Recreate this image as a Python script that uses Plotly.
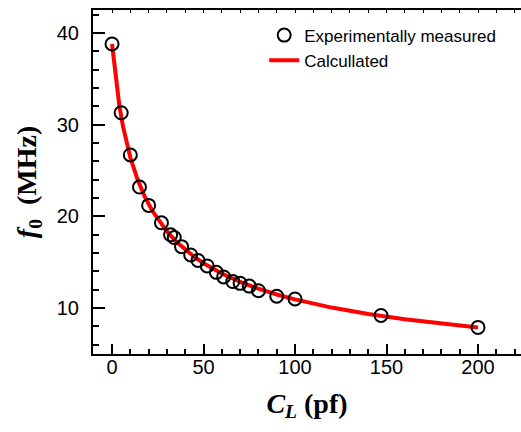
import plotly.graph_objects as go

# Experimentally measured points
cl_meas = [0, 5, 10, 15, 20, 27, 32, 34, 38, 43, 47, 52, 57, 61, 66, 70, 75, 80, 90, 100, 147, 200]
f0_meas = [38.8, 31.3, 26.7, 23.2, 21.2, 19.3, 18.0, 17.7, 16.7, 15.8, 15.2, 14.6, 13.9, 13.4,
           12.9, 12.7, 12.4, 11.9, 11.3, 11.0, 9.2, 7.9]

# Calculated curve
cl_calc = [0, 2, 4, 6, 8, 10, 14, 18, 22, 26, 30, 35, 40, 45, 50, 60, 70, 80, 90, 100,
           120, 140, 160, 180, 200]
f0_calc = [38.8, 34.97, 32.08, 29.81, 27.97, 26.42, 23.98, 22.11, 20.61, 19.39, 18.36, 17.27,
           16.36, 15.58, 14.90, 13.77, 12.87, 12.12, 11.49, 10.95, 10.06, 9.36, 8.79, 8.31, 7.90]

x_ticks = [0, 50, 100, 150, 200]
y_ticks = [10, 20, 30, 40]

tick_font = dict(family="Liberation Sans, Arial, sans-serif", size=20, color="black")
title_font = dict(family="Liberation Serif, Times New Roman, serif", size=28, color="black")

fig = go.Figure()
fig.add_trace(go.Scatter(
    x=cl_calc, y=f0_calc, mode="lines", name="Calcullated",
    line=dict(color="#ff0000", width=4), legendrank=2,
))
fig.add_trace(go.Scatter(
    x=cl_meas, y=f0_meas, mode="markers", name="Experimentally measured",
    marker=dict(symbol="circle-open", size=13, color="black", line=dict(width=2, color="black")),
    legendrank=1,
))
# invisible trace to carry the top axis ticks
fig.add_trace(go.Scatter(x=[cl_meas[0]], y=[f0_meas[0]], xaxis="x2", mode="markers",
                         marker=dict(opacity=0), showlegend=False, hoverinfo="skip"))

fig.update_layout(
    width=521, height=432,
    margin=dict(l=93, r=0, t=10, b=78, autoexpand=False),
    paper_bgcolor="white", plot_bgcolor="white",
    showlegend=True,
    legend=dict(x=0.40, y=0.978, xanchor="left", yanchor="top",
                bgcolor="rgba(0,0,0,0)", borderwidth=0,
                font=dict(family="Liberation Sans, Arial, sans-serif", size=17, color="black"),
                tracegroupgap=0, itemwidth=30),
    xaxis=dict(
        range=[-10.4, 223.5], tickvals=x_ticks, ticks="inside", ticklen=10, tickwidth=2,
        tickcolor="black", showline=True, linecolor="black", linewidth=2, mirror=True,
        showgrid=False, zeroline=False, tickfont=tick_font, ticklabelstandoff=-6,
        automargin=False,
        minor=dict(dtick=10, ticks="inside", ticklen=5, tickwidth=2, tickcolor="black"),
        title=dict(text="<b><i>C</i><sub><i>L</i></sub> (pf)</b>", font=title_font, standoff=16),
    ),
    xaxis2=dict(
        range=[-10.4, 223.5], overlaying="x", side="top", matches="x",
        tickvals=x_ticks, ticks="inside", ticklen=3, tickwidth=1, tickcolor="black",
        showticklabels=False, showgrid=False, zeroline=False, showline=False,
        automargin=False,
        minor=dict(dtick=10, ticks="inside", ticklen=3, tickwidth=1, tickcolor="black"),
    ),
    yaxis=dict(
        range=[5, 42.5], tickvals=y_ticks, ticks="inside", ticklen=12, tickwidth=2,
        tickcolor="black", showline=True, linecolor="black", linewidth=2, mirror=False,
        showgrid=False, zeroline=False, tickfont=tick_font, ticklabelstandoff=8,
        automargin=False,
        minor=dict(dtick=2, ticks="inside", ticklen=6, tickwidth=2, tickcolor="black"),
        title=dict(text="<b><i>f</i><sub>0</sub>\u00a0\u00a0(MHz)</b>", font=title_font, standoff=12),
    ),
)

fig.write_html("out.html", config={"displayModeBar": False},
               post_script="document.body.style.margin='0px';document.body.style.overflow='hidden';")
